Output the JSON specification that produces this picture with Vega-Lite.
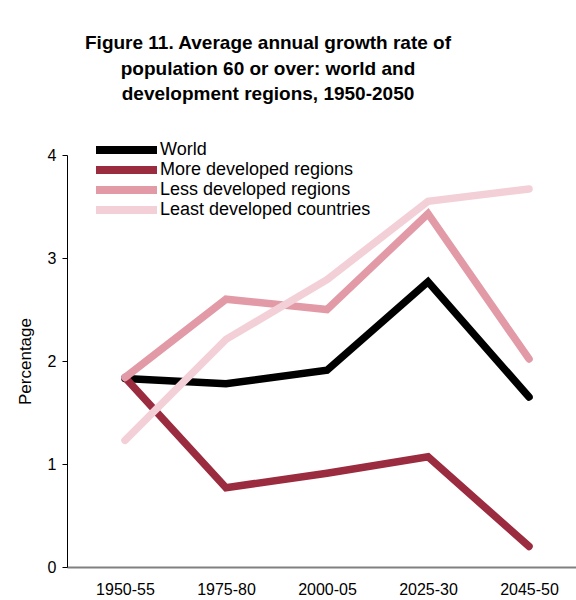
{
  "$schema": "https://vega.github.io/schema/vega-lite/v6.json",
  "width": 520,
  "height": 412,
  "autosize": {"type": "none"},
  "padding": {"left": 67, "top": 155, "right": 0, "bottom": 33},
  "background": "white",
  "config": {
    "font": "Liberation Sans",
    "view": {"stroke": null},
    "axis": {"grid": false, "labelColor": "black", "titleColor": "black", "labelFont": "Liberation Sans", "titleFont": "Liberation Sans"}
  },
  "title": {
    "text": ["Figure 11.  Average annual growth rate of", "population 60 or over: world and", "development regions, 1950-2050"],
    "fontSize": 19,
    "fontWeight": "bold",
    "lineHeight": 25.5,
    "color": "black",
    "anchor": "middle",
    "dx": -59,
    "offset": 36
  },
  "data": {
    "values": [
      {"period": "1950-55", "series": "World", "rate": 1.83},
      {"period": "1975-80", "series": "World", "rate": 1.78},
      {"period": "2000-05", "series": "World", "rate": 1.91},
      {"period": "2025-30", "series": "World", "rate": 2.77},
      {"period": "2045-50", "series": "World", "rate": 1.65},
      {"period": "1950-55", "series": "More developed regions", "rate": 1.84},
      {"period": "1975-80", "series": "More developed regions", "rate": 0.77},
      {"period": "2000-05", "series": "More developed regions", "rate": 0.91},
      {"period": "2025-30", "series": "More developed regions", "rate": 1.07},
      {"period": "2045-50", "series": "More developed regions", "rate": 0.2},
      {"period": "1950-55", "series": "Less developed regions", "rate": 1.84},
      {"period": "1975-80", "series": "Less developed regions", "rate": 2.6},
      {"period": "2000-05", "series": "Less developed regions", "rate": 2.5},
      {"period": "2025-30", "series": "Less developed regions", "rate": 3.43},
      {"period": "2045-50", "series": "Less developed regions", "rate": 2.02},
      {"period": "1950-55", "series": "Least developed countries", "rate": 1.23},
      {"period": "1975-80", "series": "Least developed countries", "rate": 2.21},
      {"period": "2000-05", "series": "Least developed countries", "rate": 2.79},
      {"period": "2025-30", "series": "Least developed countries", "rate": 3.55},
      {"period": "2045-50", "series": "Least developed countries", "rate": 3.67}
    ]
  },
  "mark": {"type": "line", "strokeWidth": 7.5, "strokeCap": "round", "strokeJoin": "miter"},
  "encoding": {
    "x": {
      "field": "period", "type": "ordinal", "sort": null,
      "scale": {"type": "point", "padding": 0.574},
      "axis": {"title": null, "labelAngle": 0, "ticks": false, "domainColor": "#808080", "domainWidth": 2, "labelFontSize": 16, "labelPadding": 14}
    },
    "y": {
      "field": "rate", "type": "quantitative",
      "scale": {"domain": [0, 4], "nice": false},
      "axis": {"title": "Percentage", "values": [0, 1, 2, 3, 4], "domainColor": "black", "domainWidth": 1, "tickColor": "black", "tickSize": 5, "labelFontSize": 16, "labelPadding": 6, "titleFontSize": 17, "titleFontWeight": "normal", "titlePadding": 13}
    },
    "color": {
      "field": "series", "type": "nominal",
      "scale": {"domain": ["World", "More developed regions", "Less developed regions", "Least developed countries"], "range": ["#000000", "#9B2B3F", "#E19AA6", "#F3D0D7"]},
      "legend": {
        "title": null, "orient": "none", "legendX": 21, "legendY": -15,
        "symbolType": "M-0.2,0H12", "symbolSize": 100, "symbolStrokeWidth": 8,
        "labelFontSize": 18, "labelColor": "black", "labelOffset": 54, "labelLimit": 400, "rowPadding": 0, "clipHeight": 20, "padding": 0
      }
    }
  }
}
